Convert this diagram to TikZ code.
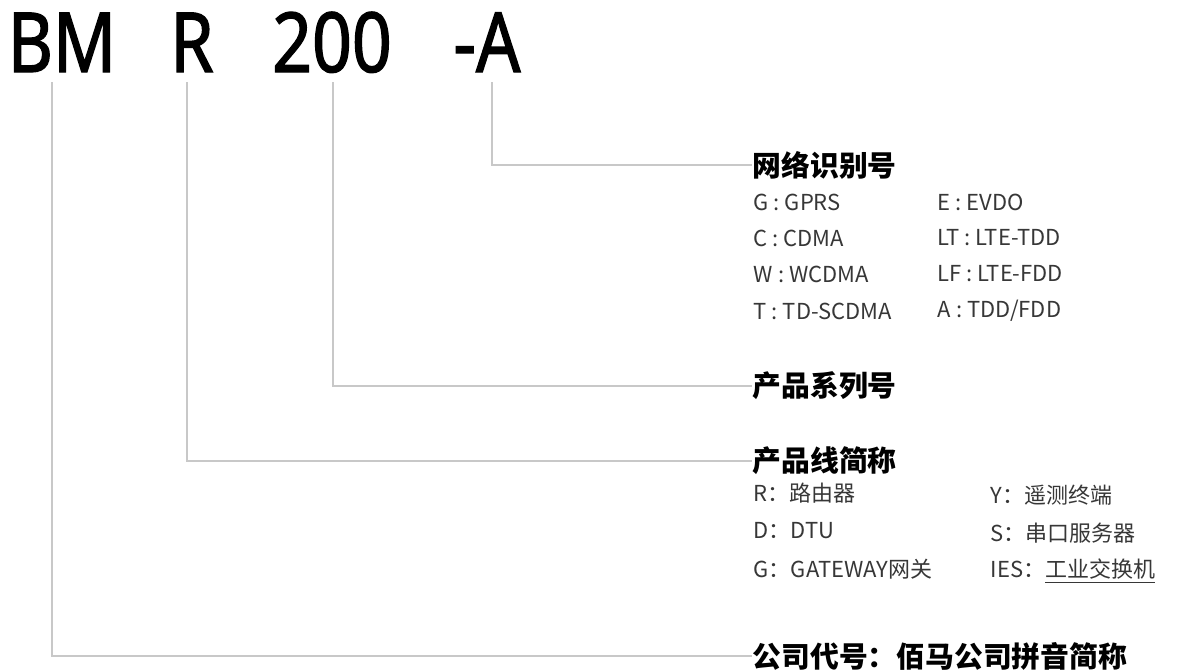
\documentclass[tikz,border=0pt]{standalone}
\usepackage{fontspec}
\setmainfont{Noto Sans}
\newfontfamily\headfont{Noto Sans}[FakeStretch=0.84,FakeBold=1.5]
\newfontfamily\cjk{Noto Sans CJK SC}
\usetikzlibrary{positioning}
\definecolor{leadcolor}{RGB}{200,200,200}
\definecolor{itemcolor}{RGB}{55,55,55}

\begin{document}
\begin{tikzpicture}[x=0.5pt,y=-0.5pt,line width=0.75pt]
 \tikzstyle{code}=[inner sep=0pt,anchor=base,font=\headfont\fontsize{41.5}{41.5}\selectfont]
 \tikzstyle{title}=[inner sep=0pt,anchor=west,font=\cjk\bfseries\fontsize{14.4}{14.4}\selectfont]
 \tikzstyle{item}=[inner sep=0pt,anchor=west,text=itemcolor,font=\cjk\fontsize{11}{11}\selectfont]
 \tikzstyle{lead}=[draw=leadcolor]
 \useasboundingbox (0,0) rectangle (1181,670);
   \node[code] (bm) at (62,72) {BM};
   \node[code] (pl) at (192,72) {R};
   \node[code] (ser) at (332,72) {200};
   \node[code] (net) at (487,72) {-A};
   \coordinate (bm0) at (52,82);
   \coordinate (pl0) at (187,82);
   \coordinate (ser0) at (333,82);
   \coordinate (net0) at (492,82);
   \node[title] (tnet) at (752,165) {网络识别号};
   \node[item] (n1) at (753,202) {G : GPRS};
   \node[item] (n2) at (753,238) {C : CDMA};
   \node[item] (n3) at (753,274) {W : WCDMA};
   \node[item] (n4) at (753,311) {T : TD-SCDMA};
   \node[item] (n5) at (937,202) {E : EVDO};
   \node[item] (n6) at (937,238) {LT : LTE-TDD};
   \node[item] (n7) at (937,274) {LF : LTE-FDD};
   \node[item] (n8) at (937,311) {A : TDD/FDD};
   \node[title] (tser) at (752,386) {产品系列号};
   \node[title] (tpl) at (752,461) {产品线简称};
   \node[item] (p1) at (753,493) {R：路由器};
   \node[item] (p2) at (753,531) {D：DTU};
   \node[item] (p3) at (753,569) {G：GATEWAY网关};
   \node[item] (p4) at (990,495) {Y：遥测终端};
   \node[item] (p5) at (990,533) {S：串口服务器};
   \node[item] (p6) at (990,571) {IES：\underline{工业交换机}};
   \node[title] (tbm) at (752,656) {公司代号：佰马公司拼音简称};
    \path[lead]
    (net0) edge [to path={|- (\tikztotarget)}] (tnet.west)
    (ser0) edge [to path={|- (\tikztotarget)}] (tser.west)
    (pl0) edge [to path={|- (\tikztotarget)}] (tpl.west)
    (bm0) edge [to path={|- (\tikztotarget)}] (tbm.west);
\end{tikzpicture}
\end{document}
